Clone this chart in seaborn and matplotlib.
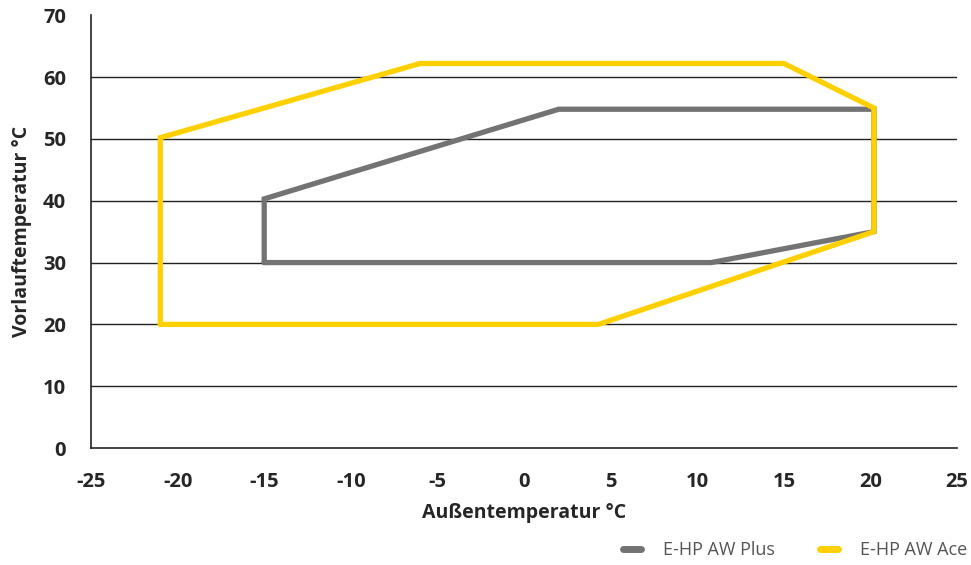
import matplotlib.pyplot as plt
import seaborn as sns
import pandas as pd

# --- data ---
plus_x = [-15, -15, 2, 20.2, 20.2, 10.8, -15]
plus_y = [30, 40.3, 54.8, 54.8, 35, 30, 30]
ace_x = [-21, -21, -6, 15, 20.2, 20.2, 4.3, -21]
ace_y = [20, 50.2, 62.2, 62.2, 55, 35, 20, 20]
series_names = ["E-HP AW Plus", "E-HP AW Ace"]
x_ticks = [-25, -20, -15, -10, -5, 0, 5, 10, 15, 20, 25]
y_ticks = [0, 10, 20, 30, 40, 50, 60, 70]

df = pd.concat([
    pd.DataFrame({"x": plus_x, "y": plus_y, "series": series_names[0]}),
    pd.DataFrame({"x": ace_x, "y": ace_y, "series": series_names[1]}),
], ignore_index=True)

sns.set_theme(style="white")
plt.rcParams['font.family'] = ['Open Sans', 'DejaVu Sans']

fig = plt.figure(figsize=(9.71, 5.65), dpi=100)
ax = fig.add_axes([0.0937, 0.207, 0.892, 0.766])

# horizontal grid lines
for v in y_ticks[1:-1]:
    ax.axhline(v, color="#222222", lw=1.0, zorder=0)

palette = {series_names[0]: "#737373", series_names[1]: "#FFD000"}
for name in series_names:
    sub = df[df["series"] == name]
    sns.lineplot(data=sub, x="x", y="y", sort=False, estimator=None, color=palette[name],
                 lw=3.8, ax=ax, label=name, solid_joinstyle="miter")

ax.set_xlim(-25, 25)
ax.set_ylim(0, 70)
ax.set_xticks(x_ticks)
ax.set_yticks(y_ticks)
ax.set_xticklabels([str(t) for t in x_ticks], fontsize=14.5, fontweight="bold")
ax.set_yticklabels([str(t) for t in y_ticks], fontsize=14.5, fontweight="bold")
ax.tick_params(axis="both", direction="out", length=6, width=1.2, color="#222222")
ax.tick_params(axis="x", pad=11)
ax.tick_params(axis="y", pad=12)
ax.set_xlabel("Außentemperatur °C", fontsize=14, fontweight="bold", labelpad=8)
ax.set_ylabel("Vorlauftemperatur °C", fontsize=14, fontweight="bold", labelpad=8)

for s in ["top", "right"]:
    ax.spines[s].set_visible(False)
for s in ["left", "bottom"]:
    ax.spines[s].set_color("#222222")
    ax.spines[s].set_linewidth(1.2)

leg = ax.legend(loc="lower right", bbox_to_anchor=(1.03, -0.295), ncol=2, frameon=False,
                fontsize=13, handlelength=1.0, handletextpad=1.2, columnspacing=2.5,
                labelcolor="#555555")
for h in leg.get_lines():
    h.set_linewidth(5)

fig.savefig("out.png", dpi=100)
